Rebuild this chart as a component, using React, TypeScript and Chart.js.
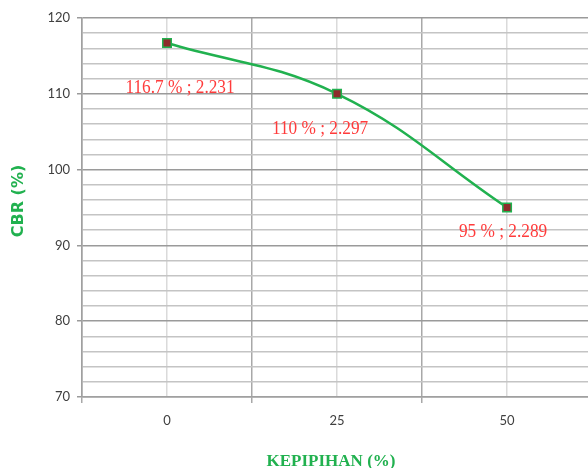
import React, { useEffect, useRef } from "react";
import { Chart, registerables } from "chart.js";

Chart.register(...registerables);

const categories = ["0", "25", "50"];
const xValues = [0, 25, 50];
const cbrValues = [116.7, 110, 95];
const pointLabels = ["116.7 % ; 2.231", "110 % ; 2.297", "95 % ; 2.289"];
const yTickValues = [70, 80, 90, 100, 110, 120];

const GREEN = "#21b14f";
const LABEL_RED = "#ff3b3b";

export default function App() {
  const ref = useRef<HTMLCanvasElement | null>(null);

  useEffect(() => {
    const canvas = ref.current;
    if (!canvas) return;

    const labelOffsets = [
      [13, 45],
      [-17, 35],
      [-4, 25],
    ];

    const overlay = {
      id: "overlay",
      afterDatasetsDraw(chart: any) {
        const { ctx } = chart;
        const xs = chart.scales.x;
        const ys = chart.scales.y;
        ctx.save();
        ctx.fillStyle = LABEL_RED;
        ctx.font = "18px 'Liberation Serif'";
        ctx.textAlign = "center";
        ctx.textBaseline = "middle";
        pointLabels.forEach((t, i) => {
          const px = xs.getPixelForValue(xValues[i]) + labelOffsets[i][0];
          const py = ys.getPixelForValue(cbrValues[i]) + labelOffsets[i][1];
          ctx.save();
          ctx.translate(px, py);
          ctx.scale(0.96, 1);
          ctx.fillText(t, 0, 0);
          ctx.restore();
        });
        ctx.fillStyle = GREEN;
        ctx.save();
        ctx.translate(19, 201);
        ctx.rotate(-Math.PI / 2);
        ctx.font = "bold 16px 'DejaVu Sans'";
        ctx.fillText("CBR (%)", 0, 0);
        ctx.restore();
        ctx.font = "bold 17px 'Liberation Serif'";
        ctx.fillText("KEPIPIHAN (%)", 331, 462);
        ctx.restore();
      },
    };

    const chart = new Chart(canvas, {
      type: "line",
      data: {
        datasets: [
          {
            data: xValues.map((x, i) => ({ x, y: cbrValues[i] })),
            borderColor: GREEN,
            borderWidth: 2.5,
            tension: 0.4,
            pointStyle: "rect",
            pointRadius: 6,
            pointBackgroundColor: "#8e2b2b",
            pointBorderColor: GREEN,
            pointBorderWidth: 1.5,
          },
        ],
      },
      options: {
        responsive: false,
        animation: false,
        layout: { autoPadding: false, padding: { top: 18, left: 0, right: 0, bottom: 0 } },
        plugins: {
          legend: { display: false },
          tooltip: { enabled: false },
        },
        scales: {
          x: {
            type: "linear",
            min: -12.5,
            max: 61.9,
            afterBuildTicks(scale: any) {
              scale.ticks = [-12.5, 0, 12.5, 25, 37.5, 50].map((v) => ({ value: v }));
            },
            afterFit(scale: any) {
              scale.height = 71;
              scale.paddingRight = 0;
              scale.paddingLeft = 0;
            },
            ticks: {
              autoSkip: false,
              maxRotation: 0,
              padding: 10,
              color: "#404040",
              font: { family: "Lato", size: 13 },
              callback: (v: any) => {
                const i = xValues.indexOf(Number(v));
                return i >= 0 ? categories[i] : "";
              },
            },
            grid: {
              color: (c: any) =>
                xValues.includes(c.tick?.value) ? "#dadada" : "#a8a8a8",
              tickColor: (c: any) =>
                xValues.includes(c.tick?.value) ? "rgba(0,0,0,0)" : "#a8a8a8",
              lineWidth: 1.5,
              tickLength: 6,
            },
            border: { color: "#a0a0a0", width: 1.5 },
          },
          y: {
            min: 70,
            max: 120,
            afterBuildTicks(scale: any) {
              const t: any[] = [];
              for (let v = 70; v <= 120; v += 2) t.push({ value: v });
              scale.ticks = t;
            },
            afterFit(scale: any) {
              scale.width = 82;
            },
            ticks: {
              autoSkip: false,
              padding: 7,
              color: "#404040",
              font: { family: "Lato", size: 13 },
              callback: (v: any) => (yTickValues.includes(Number(v)) ? String(v) : ""),
            },
            grid: {
              color: (c: any) =>
                yTickValues.includes(c.tick?.value) ? "#9a9a9a" : "#c4c4c4",
              tickColor: (c: any) =>
                yTickValues.includes(c.tick?.value) ? "#9a9a9a" : "rgba(0,0,0,0)",
              lineWidth: 1.5,
              tickLength: 5,
            },
            border: { color: "#a0a0a0", width: 1.5 },
          },
        },
      },
      plugins: [overlay],
    } as any);

    return () => chart.destroy();
  }, []);

  return (
    <div style={{ position: "fixed", left: 0, top: 0, width: 588, height: 468, background: "#fff" }}>
      <canvas ref={ref} width={588} height={468} style={{ display: "block" }} />
    </div>
  );
}
